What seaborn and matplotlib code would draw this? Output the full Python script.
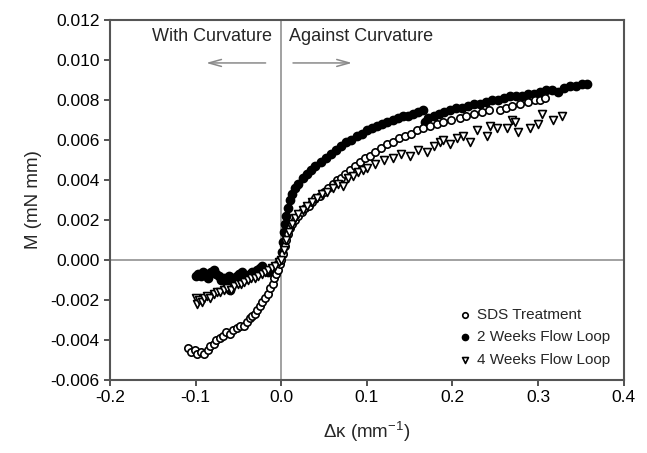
import numpy as np
import pandas as pd
import seaborn as sns
import matplotlib.pyplot as plt

# SDS Treatment (open circles)
sds_x = [-0.109, -0.105, -0.101, -0.098, -0.094, -0.090, -0.086, -0.083, -0.079, -0.076,
         -0.072, -0.068, -0.064, -0.060, -0.056, -0.052, -0.048, -0.044, -0.040, -0.037,
         -0.034, -0.031, -0.028, -0.025, -0.022, -0.019, -0.016, -0.013, -0.010, -0.008,
         -0.006, -0.004, -0.002, 0.000, 0.002, 0.004, 0.006, 0.008, 0.010, 0.013,
         0.016, 0.020, 0.024, 0.028, 0.032, 0.036, 0.040, 0.045, 0.050, 0.055,
         0.060, 0.065, 0.070, 0.075, 0.080, 0.086, 0.092, 0.098, 0.104, 0.110,
         0.117, 0.124, 0.131, 0.138, 0.145, 0.152, 0.159, 0.166, 0.174, 0.182,
         0.189, 0.198, 0.209, 0.216, 0.225, 0.234, 0.243, 0.256, 0.263, 0.270,
         0.279, 0.288, 0.296, 0.302, 0.308]
sds_y = [-0.0044, -0.0046, -0.0045, -0.0047, -0.0046, -0.0047, -0.0045, -0.0043, -0.0042, -0.0040,
         -0.0039, -0.0038, -0.0036, -0.0037, -0.0035, -0.0034, -0.0033, -0.0033, -0.0031, -0.0029,
         -0.0028, -0.0027, -0.0025, -0.0023, -0.0021, -0.0019, -0.0017, -0.0014, -0.0012, -0.0009,
         -0.0007, -0.0005, -0.0002, 0.0000, 0.0003, 0.0007, 0.0010, 0.0013, 0.0016, 0.0018,
         0.0020, 0.0022, 0.0024, 0.0026, 0.0027, 0.0029, 0.0031, 0.0032, 0.0034, 0.0036,
         0.0038, 0.0040, 0.0041, 0.0043, 0.0045, 0.0047, 0.0049, 0.0051, 0.0052, 0.0054,
         0.0056, 0.0058, 0.0059, 0.0061, 0.0062, 0.0063, 0.0065, 0.0066, 0.0067, 0.0068,
         0.0069, 0.0070, 0.0071, 0.0072, 0.0073, 0.0074, 0.0075, 0.0075, 0.0076, 0.0077,
         0.0078, 0.0079, 0.0080, 0.0080, 0.0081]

# 2 Weeks Flow Loop (filled circles)
w2_x = [-0.100, -0.097, -0.094, -0.091, -0.088, -0.085, -0.082, -0.079, -0.076, -0.073,
        -0.070, -0.067, -0.064, -0.061, -0.060, -0.058, -0.055, -0.052, -0.049, -0.046,
        -0.043, -0.040, -0.037, -0.034, -0.031, -0.028, -0.025, -0.022, -0.019, -0.016,
        -0.013, -0.010, -0.007, -0.004, -0.001, 0.001, 0.002, 0.003, 0.004, 0.006,
        0.008, 0.010, 0.013, 0.016, 0.020, 0.025, 0.030, 0.035, 0.040, 0.046,
        0.052, 0.058, 0.064, 0.070, 0.076, 0.082, 0.088, 0.094, 0.100, 0.106,
        0.112, 0.118, 0.124, 0.130, 0.136, 0.142, 0.148, 0.154, 0.160, 0.165,
        0.168, 0.172, 0.178, 0.184, 0.190, 0.197, 0.204, 0.211, 0.218, 0.225,
        0.232, 0.239, 0.246, 0.253, 0.260, 0.267, 0.274, 0.281, 0.288, 0.295,
        0.302, 0.309, 0.316, 0.323, 0.330, 0.337, 0.344, 0.351, 0.357]
w2_y = [-0.0008, -0.0007, -0.0008, -0.0006, -0.0007, -0.0009, -0.0006, -0.0005, -0.0007, -0.0008,
        -0.0010, -0.0009, -0.0011, -0.0008, -0.0015, -0.0009, -0.0010, -0.0008, -0.0007, -0.0006,
        -0.0008, -0.0009, -0.0007, -0.0006, -0.0007, -0.0005, -0.0004, -0.0003, -0.0005, -0.0006,
        -0.0005, -0.0004, -0.0003, -0.0002, 0.0000, 0.0004, 0.0009, 0.0014, 0.0018, 0.0022,
        0.0026, 0.0030, 0.0033, 0.0036, 0.0038, 0.0041, 0.0043, 0.0045, 0.0047, 0.0049,
        0.0051, 0.0053, 0.0055, 0.0057, 0.0059, 0.0060, 0.0062, 0.0063, 0.0065, 0.0066,
        0.0067, 0.0068, 0.0069, 0.0070, 0.0071, 0.0072, 0.0072, 0.0073, 0.0074, 0.0075,
        0.0069, 0.0071, 0.0072, 0.0073, 0.0074, 0.0075, 0.0076, 0.0076, 0.0077, 0.0078,
        0.0078, 0.0079, 0.0080, 0.0080, 0.0081, 0.0082, 0.0082, 0.0082, 0.0083, 0.0083,
        0.0084, 0.0085, 0.0085, 0.0084, 0.0086, 0.0087, 0.0087, 0.0088, 0.0088]

# 4 Weeks Flow Loop (open triangles)
w4_x = [-0.099, -0.098, -0.096, -0.093, -0.090, -0.087, -0.083, -0.079, -0.075, -0.071,
        -0.067, -0.063, -0.059, -0.055, -0.051, -0.047, -0.043, -0.039, -0.035, -0.031,
        -0.027, -0.023, -0.019, -0.015, -0.011, -0.007, -0.003, 0.000, 0.003, 0.006,
        0.009, 0.012, 0.016, 0.020, 0.025, 0.030, 0.036, 0.042, 0.048, 0.054,
        0.060, 0.066, 0.072, 0.078, 0.084, 0.090, 0.096, 0.100, 0.110, 0.120,
        0.131, 0.140, 0.150, 0.160, 0.170, 0.178, 0.186, 0.189, 0.197, 0.205,
        0.212, 0.220, 0.229, 0.240, 0.244, 0.252, 0.264, 0.270, 0.273, 0.276,
        0.290, 0.300, 0.305, 0.317, 0.328]
w4_y = [-0.0019, -0.0022, -0.0020, -0.0021, -0.0019, -0.0018, -0.0019, -0.0017, -0.0016, -0.0016,
        -0.0015, -0.0014, -0.0015, -0.0013, -0.0012, -0.0012, -0.0011, -0.0010, -0.0009, -0.0009,
        -0.0008, -0.0007, -0.0006, -0.0005, -0.0004, -0.0003, -0.0001, 0.0000, 0.0005, 0.0010,
        0.0014, 0.0018, 0.0021, 0.0023, 0.0025, 0.0027, 0.0029, 0.0031, 0.0033, 0.0034,
        0.0036, 0.0038, 0.0037, 0.0041, 0.0042, 0.0044, 0.0045, 0.0046, 0.0048, 0.0050,
        0.0051, 0.0053, 0.0052, 0.0055, 0.0054, 0.0057, 0.0059, 0.0060, 0.0058, 0.0061,
        0.0062, 0.0059, 0.0065, 0.0062, 0.0067, 0.0066, 0.0066, 0.0070, 0.0069, 0.0064,
        0.0066, 0.0068, 0.0073, 0.0070, 0.0072]

x_ticks = [-0.2, -0.1, 0.0, 0.1, 0.2, 0.3, 0.4]
y_ticks = [-0.006, -0.004, -0.002, 0.000, 0.002, 0.004, 0.006, 0.008, 0.010, 0.012]

sns.set_style("white")
plt.rcParams['font.family'] = ['Liberation Sans', 'DejaVu Sans']

fig = plt.figure(figsize=(6.47, 4.53), dpi=100)
ax = fig.add_axes([0.170, 0.161, 0.794, 0.795])

# lineas de referencia
ax.axvline(0, color="#9a9a9a", lw=1.3, zorder=1)
ax.axhline(0, color="#9a9a9a", lw=1.3, zorder=1)

sns.scatterplot(x=sds_x, y=sds_y, ax=ax, marker="o", s=28, color="white",
                edgecolor="black", linewidth=1.2, label="SDS Treatment", zorder=3)
sns.scatterplot(x=w2_x, y=w2_y, ax=ax, marker="o", s=36, color="black",
                edgecolor="black", linewidth=1.0, label="2 Weeks Flow Loop", zorder=2)
sns.scatterplot(x=w4_x, y=w4_y, ax=ax, marker="v", s=32, color="white",
                edgecolor="black", linewidth=1.2, label="4 Weeks Flow Loop", zorder=4)

ax.set_xlim(-0.2, 0.4)
ax.set_ylim(-0.006, 0.012)
ax.set_xticks(x_ticks)
ax.set_xticklabels([f"{t:.1f}" for t in x_ticks])
ax.set_yticks(y_ticks)
ax.set_yticklabels([f"{t:.3f}" for t in y_ticks])
ax.tick_params(direction="out", length=4, width=1.2, colors="#333333",
               labelcolor="black", labelsize=12.5, bottom=True, left=True)

for sp in ax.spines.values():
    sp.set_color("#555555")
    sp.set_linewidth(1.5)

ax.set_xlabel(r"Δκ (mm$^{\mathregular{-1}}$)", fontsize=13.5, labelpad=10)
ax.set_ylabel("M (mN mm)", fontsize=13.5, labelpad=6)

# flechas de curvatura
ax.text(-0.0105, 0.01115, "With Curvature", ha="right", va="center", fontsize=13)
ax.text(0.0093, 0.01115, "Against Curvature", ha="left", va="center", fontsize=13)
ax.annotate("", xy=(-0.091, 0.00985), xytext=(-0.015, 0.00985),
            arrowprops=dict(arrowstyle="->,head_length=0.9,head_width=0.25",
                            color="#8a8a8a", lw=1.1))
ax.annotate("", xy=(0.086, 0.00985), xytext=(0.0105, 0.00985),
            arrowprops=dict(arrowstyle="->,head_length=0.9,head_width=0.25",
                            color="#8a8a8a", lw=1.1))

ax.legend(loc="lower right", bbox_to_anchor=(0.985, 0.02), frameon=False,
          fontsize=11, handletextpad=0.3, labelspacing=0.55, borderaxespad=0,
          markerscale=0.75, handlelength=1.0)

fig.savefig("out.png", dpi=100)
